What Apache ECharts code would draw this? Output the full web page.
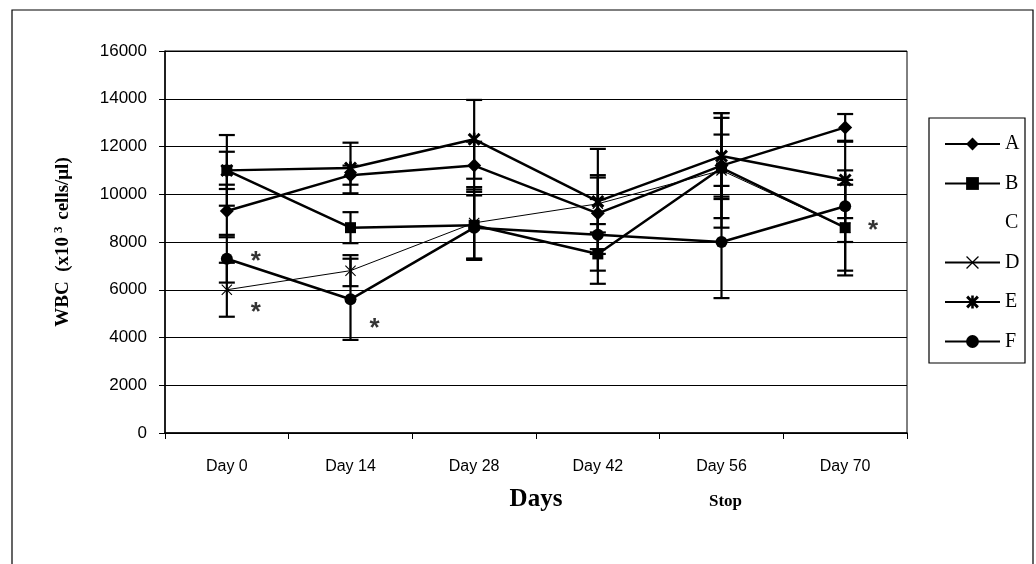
<!DOCTYPE html>
<html>
<head>
<meta charset="utf-8">
<script src="https://cdn.jsdelivr.net/npm/echarts@6/dist/echarts.min.js"></script>
<style>
html,body{margin:0;padding:0;background:#fff;}
#c{width:1036px;height:564px;}
</style>
</head>
<body>
<div id="c"></div>
<script>
// ---- data ----
const days = ['Day 0', 'Day 14', 'Day 28', 'Day 42', 'Day 56', 'Day 70'];
const yTicksMin = 0, yTicksMax = 16000, yTickStep = 2000;

const seriesA = [9300, 10800, 11200, 9200, 11200, 12800];
const seriesB = [11000, 8600, 8700, 7500, 11100, 8600];
const seriesD = [6000, 6800, 8800, 9600, 11000, 8600];
const seriesE = [11000, 11100, 12300, 9700, 11600, 10600];
const seriesF = [7300, 5600, 8600, 8300, 8000, 9500];

const sdA = [1100, 400, 1000, 1500, 1300, 560];
const sdB = [780, 650, 1400, 1250, 2100, 2000];
const sdD = [1130, 650, 1500, 1200, 2400, 1800];
const sdE = [1480, 1060, 1650, 2200, 1800, 1600];
const sdF = [1000, 1700, 1350, 1500, 2350, 1500];

// significance marks: [day index, value]
const starNotes = [[0, 7300], [0, 6000], [1, 5600], [5, 8600]];
// ------------------------------------

const starOffsets = [[29, 3], [29, 23], [24, 30], [28, 3]];

const errData = [];
[[seriesA, sdA], [seriesB, sdB], [seriesD, sdD], [seriesE, sdE], [seriesF, sdF]].forEach(function (p) {
  p[0].forEach(function (v, i) { errData.push([i, v - p[1][i], v + p[1][i]]); });
});

const xPath = 'path://M0,0.7 L0.7,0 L5,4.3 L9.3,0 L10,0.7 L5.7,5 L10,9.3 L9.3,10 L5,5.7 L0.7,10 L0,9.3 L4.3,5 Z';
const astPath = 'path://M0,1.6 L1.6,0 L5,3.4 L8.4,0 L10,1.6 L6.6,5 L10,8.4 L8.4,10 L5,6.6 L1.6,10 L0,8.4 L3.4,5 Z M4,0 L6,0 L6,10 L4,10 Z';

function lineSeries(name, data, symbol, size, width) {
  return {
    name: name, type: 'line', data: data, symbol: symbol, symbolSize: size,
    lineStyle: { color: '#000', width: width },
    itemStyle: { color: '#000', borderWidth: 0 },
    z: 5, animation: false
  };
}

const chart = echarts.init(document.getElementById('c'), null, { renderer: 'canvas' });
chart.setOption({
  backgroundColor: '#fff',
  animation: false,
  grid: { left: 165, right: 129, top: 51, bottom: 131, show: true, borderColor: '#000', borderWidth: 1, backgroundColor: 'transparent' },
  legend: {
    orient: 'vertical', left: 939, top: 129, itemWidth: 55, itemHeight: 16, itemGap: 19.5,
    data: ['A', 'B', 'C', 'D', 'E', 'F'],
    textStyle: { fontFamily: 'Liberation Serif', fontSize: 20, color: '#000', lineHeight: 20 },
    selectedMode: false
  },
  xAxis: {
    type: 'category', data: days, boundaryGap: true,
    axisLine: { lineStyle: { color: '#000', width: 1.5 } },
    axisTick: { show: true, interval: 0, length: 6, lineStyle: { color: '#000' } },
    axisLabel: { color: '#000', fontFamily: 'Liberation Sans', fontSize: 16, margin: 26 },
    name: 'Days', nameLocation: 'middle', nameGap: 54,
    nameTextStyle: { fontFamily: 'Liberation Serif', fontWeight: 'bold', fontSize: 25, color: '#000' },
    splitLine: { show: false }
  },
  yAxis: {
    type: 'value', min: yTicksMin, max: yTicksMax, interval: yTickStep,
    axisLine: { show: true, lineStyle: { color: '#000', width: 1.5 } },
    axisTick: { show: true, length: 6, lineStyle: { color: '#000' } },
    axisLabel: { color: '#000', fontFamily: 'Liberation Sans', fontSize: 17, margin: 18, formatter: function (v) { return String(v); } },
    splitLine: { show: true, lineStyle: { color: '#000', width: 1 } },
    name: 'WBC  (x10{sup|3} cells/\u03bcl)', nameLocation: 'middle', nameGap: 90, nameRotate: 90,
    nameTextStyle: {
      fontFamily: 'Liberation Serif', fontWeight: 'bold', fontSize: 19, color: '#000',
      rich: { sup: { fontFamily: 'Liberation Serif', fontWeight: 'bold', fontSize: 13, color: '#000', verticalAlign: 'top', padding: [0, 2, 10, 4] } }
    }
  },
  series: [
    {
      type: 'custom', name: 'err', data: errData, z: 3, silent: true,
      renderItem: function (params, api) {
        const x = api.value(0);
        const lo = api.coord([x, api.value(1)]);
        const hi = api.coord([x, api.value(2)]);
        const w = 8;
        const st = { stroke: '#000', lineWidth: 2.2 };
        return {
          type: 'group', children: [
            { type: 'line', shape: { x1: hi[0], y1: hi[1], x2: lo[0], y2: lo[1] }, style: st },
            { type: 'line', shape: { x1: hi[0] - w, y1: hi[1], x2: hi[0] + w, y2: hi[1] }, style: st },
            { type: 'line', shape: { x1: lo[0] - w, y1: lo[1], x2: lo[0] + w, y2: lo[1] }, style: st }
          ]
        };
      }
    },
    lineSeries('A', seriesA, 'diamond', 14, 2.5),
    lineSeries('B', seriesB, 'rect', 11, 2.5),
    { name: 'C', type: 'line', data: [], symbol: 'none', lineStyle: { width: 0, opacity: 0 }, itemStyle: { opacity: 0 } },
    lineSeries('D', seriesD, xPath, 11, 1),
    lineSeries('E', seriesE, astPath, 13, 2.5),
    lineSeries('F', seriesF, 'circle', 12, 2.5),
    {
      type: 'scatter', name: 'notes', symbolSize: 0, silent: true, z: 6,
      data: starNotes.map(function (d, i) {
        return { value: d, label: { show: true, formatter: '*', offset: starOffsets[i], position: 'inside', fontFamily: 'Liberation Sans', fontWeight: 'bold', fontSize: 26, color: '#000' } };
      })
    }
  ],
  graphic: [
    { type: 'rect', shape: { x: 12, y: 10, width: 1021, height: 570 }, style: { fill: 'none', stroke: '#000', lineWidth: 1.2 }, silent: true },
    { type: 'rect', shape: { x: 929, y: 118, width: 96, height: 245 }, style: { fill: 'none', stroke: '#000', lineWidth: 1.2 }, silent: true },
    { type: 'text', left: 709, top: 493, style: { text: 'Stop', fontFamily: 'Liberation Serif', fontWeight: 'bold', fontSize: 17, fill: '#000' } }
  ]
});
</script>
</body>
</html>
